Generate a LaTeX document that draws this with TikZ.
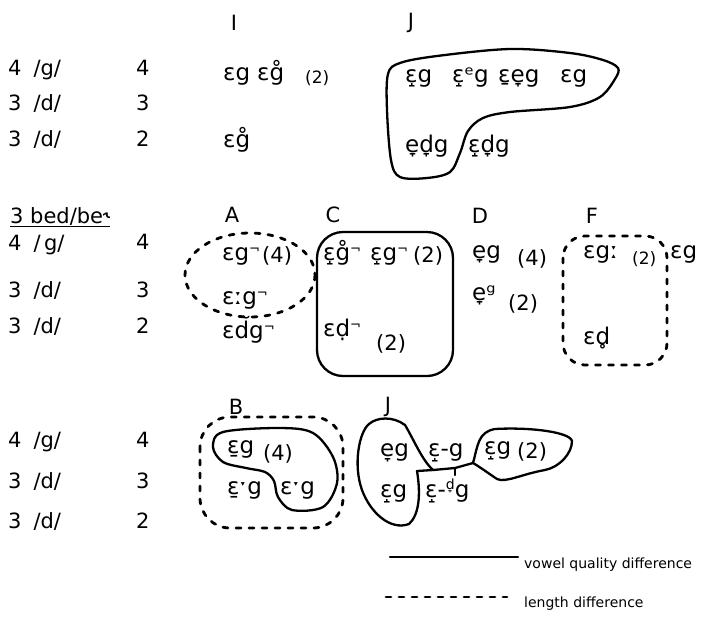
\documentclass[tikz,border=0pt]{standalone}
\usepackage{fontspec}
\setmainfont{DejaVu Sans}
\newcommand\Ep{^^^^025b}
\newcommand\xup{^^^^031d}
\newcommand\xdn{^^^^031e}
\newcommand\xrg{^^^^030a}
\newcommand\xrb{^^^^0325}
\newcommand\xmb{^^^^0331}
\newcommand\xdb{^^^^0323}
\newcommand\xbrv{^^^^0306}
\newcommand\unr{\raisebox{7pt}{\fontsize{13}{15}\selectfont ¬}}
\newcommand\lng{^^^^02d0}
\newcommand\hlf{^^^^02d1}
\newcommand\supe{^^^^1d49}
\newcommand\supg{^^^^1d4d}
\newcommand\rhot{^^^^02de}
\tikzset{
  hd/.style={font=\fontsize{21}{24}\selectfont, inner sep=0pt},
  lab/.style={font=\fontsize{21}{25}\selectfont, inner sep=0pt, anchor=base west},
  ipa/.style={font=\fontsize{23}{27}\selectfont, inner sep=0pt, anchor=base west},
  sm/.style={font=\fontsize{17}{20}\selectfont, inner sep=0pt, anchor=base west},
  leg/.style={font=\fontsize{14}{17}\selectfont, inner sep=0pt, anchor=base west},
  qual/.style={line width=2.3pt, line join=round, line cap=round},
  lenline/.style={line width=2.8pt, dash pattern=on 5pt off 8pt, line cap=round},
}
\begin{document}
\begin{tikzpicture}[x=1pt,y=-1pt]
\useasboundingbox (0,0) rectangle (725,625);
% ---------- Section 1 ----------
\node[hd] (hI) at (234,23) {I};
\node[hd] (hJ) at (411,23) {J};
\node[lab] (r1a) at (8,75) {4\hspace{12pt}/g/};
\node[lab] (n1a) at (136,75) {4};
\node[lab] (r1b) at (8,110) {3\hspace{12pt}/d/};
\node[lab] (n1b) at (136,110) {3};
\node[lab] (r1c) at (8,146) {3\hspace{12pt}/d/};
\node[lab] (n1c) at (136,146) {2};
\node[ipa] (i1) at (223,80) {\Ep g};
\node[ipa] (i2) at (257,80) {\Ep g\xrg};
\node[sm]  (i3) at (305,83) {(2)};
\node[ipa] (i4) at (223,147) {\Ep g\xrg};
\node[ipa] (j1) at (405,82) {\Ep\xup g};
\node[ipa] (j2) at (452,82) {\Ep\xup\supe g};
\node[ipa] (j3) at (498,82) {\Ep\xmb e\xdn g};
\node[ipa] (j4) at (560,82) {\Ep g};
\node[ipa] (j5) at (405,152) {e\xdn d\xdn g};
\node[ipa] (j6) at (468,152) {\Ep\xup d\xdn g};
\draw[qual] plot[smooth cycle, tension=0.55] coordinates {
  (388,74) (400,63) (437,56) (510,49) (570,53) (603,60) (618,68) (615,79)
  (600,97) (570,107) (510,112) (483,118) (468,131) (460,153) (450,172)
  (427,178) (400,177) (391,160) (387,110)};
% ---------- Section 2 ----------
\node[lab] (bed) at (10,223) {\underline{3 bed/be\rhot}};
\node[hd] (hA) at (232,215) {A};
\node[hd] (hC) at (333,215) {C};
\node[hd] (hD) at (480,216) {D};
\node[hd] (hF) at (592,216) {F};
\node[lab] (r2a) at (8,250) {4\hspace{12pt}/\,g/};
\node[lab] (n2a) at (136,249) {4};
\node[lab] (r2b) at (8,297) {3\hspace{12pt}/d/};
\node[lab] (n2b) at (136,297) {3};
\node[lab] (r2c) at (8,333) {3\hspace{12pt}/d/};
\node[lab] (n2c) at (136,333) {2};
% A
\node[ipa] (a1) at (222,260) {\Ep g\unr};
\node[lab] (a2) at (262,262) {(4)};
\node[ipa] (a3) at (222,304) {\Ep\lng g\unr};
\node[ipa] (a4) at (222,338) {\Ep d\xbrv g\unr};
\draw[lenline] (250,275) ellipse [x radius=65, y radius=42];
% C
\node[ipa] (c1) at (323,260) {\Ep\xup g\xrg\unr};
\node[ipa] (c2) at (370,260) {\Ep\xup g\unr};
\node[lab] (c3) at (413,262) {(2)};
\node[ipa] (c4) at (323,336) {\Ep d\xdb\unr};
\node[lab] (c5) at (376,350) {(2)};
\draw[qual, rounded corners=26pt] (317,232) rectangle (453,376);
% D
\node[ipa] (d1) at (472,258) {e\xdn g};
\node[lab] (d2) at (517,265) {(4)};
\node[ipa] (d3) at (472,300) {e\xdn\supg};
\node[lab] (d4) at (508,310) {(2)};
% F
\node[ipa] (f1) at (583,258) {\Ep g\lng};
\node[sm]  (f2) at (632,264) {(2)};
\node[ipa] (f3) at (670,258) {\Ep g};
\node[ipa] (f4) at (583,344) {\Ep d\xrb};
\draw[lenline, rounded corners=22pt] (563,236) rectangle (667,365);
% ---------- Section 3 ----------
\node[hd] (hB) at (236,407) {B};
\node[hd] (hJ2) at (388,407) {J};
\node[lab] (r3a) at (8,447) {4\hspace{12pt}/g/};
\node[lab] (n3a) at (136,447) {4};
\node[lab] (r3b) at (8,488) {3\hspace{12pt}/d/};
\node[lab] (n3b) at (136,488) {3};
\node[lab] (r3c) at (8,528) {3\hspace{12pt}/d/};
\node[lab] (n3c) at (136,528) {2};
% B
\node[ipa] (b1) at (227,453) {\Ep\xmb g};
\node[lab] (b2) at (263,460) {(4)};
\node[ipa] (b3) at (227,494) {\Ep\xmb\hlf g};
\node[ipa] (b4) at (280,494) {\Ep\hlf g};
\draw[lenline, rounded corners=30pt] (200,417) rectangle (343,528);
\draw[qual] plot[smooth cycle, tension=0.55] coordinates {
  (213,447) (223,432) (280,428) (313,433) (333,457) (337,483) (323,507)
  (292,510) (278,497) (274,481) (265,472) (246,468) (223,462)};
% J (bottom)
\node[ipa] (k1) at (380,456) {e\xdn g};
\node[ipa] (k2) at (380,497) {\Ep\xup g};
\node[ipa] (k3) at (428,456) {\Ep\xup -g};
\node[ipa] (k4) at (425,497) {\Ep\xup -\raisebox{8pt}{\fontsize{14}{16}\selectfont d\xdn}g};
\node[ipa] (k5) at (484,454) {\Ep\xup g};
\node[lab] (k6) at (517,458) {(2)};
\coordinate (jL) at (433,470);
\coordinate (jM) at (455,468);
\coordinate (jR) at (473,463);
\draw[qual] (jL) -- (417,471) .. controls (421,495) and (419,515) .. (409,524)
  .. controls (390,531) and (370,512) .. (362,490)
  .. controls (353,465) and (359,432) .. (369,424)
  .. controls (377,417) and (393,416) .. (405,425)
  .. controls (414,440) and (422,460) .. (jL) -- cycle;
\draw[qual] (jL) -- (jM) -- (jR);
\draw[qual] (jM) -- ++(0,7);
\draw[qual] (jR) .. controls (478,445) and (478,432) .. (495,429)
  .. controls (530,427) and (570,432) .. (572,441)
  .. controls (572,453) and (560,467) .. (545,470)
  .. controls (522,474) and (506,483) .. (497,479)
  .. controls (488,473) and (480,467) .. (jR);
% ---------- Legend ----------
\coordinate (s1) at (390,557);
\coordinate (s2) at (518,557);
\coordinate (t1) at (386,597);
\coordinate (t2) at (507,597);
\draw[qual] (s1) -- (s2);
\draw[lenline] (t1) -- (t2);
\node[leg] (l1) at (524,568) {vowel quality difference};
\node[leg] (l2) at (524,607) {length difference};
\end{tikzpicture}
\end{document}
